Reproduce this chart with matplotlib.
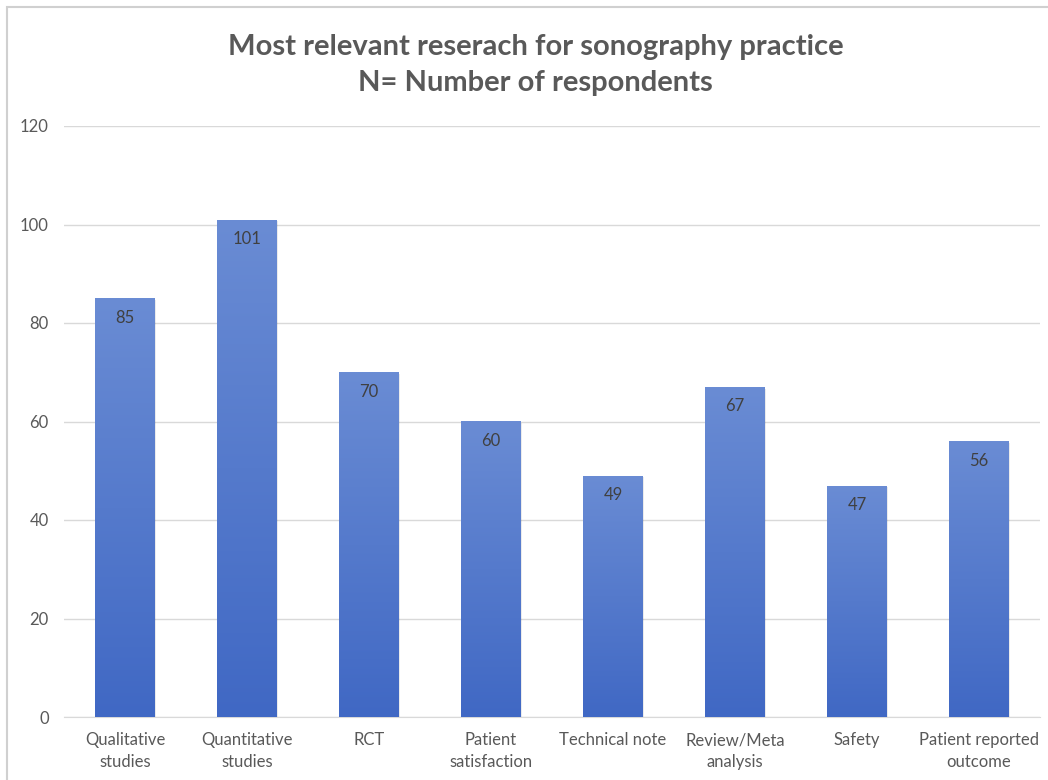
import numpy as np
import matplotlib
matplotlib.use("Agg")
import matplotlib.pyplot as plt
from matplotlib.patches import Rectangle
from matplotlib.colors import LinearSegmentedColormap

categories = ["Qualitative\nstudies", "Quantitative\nstudies", "RCT", "Patient\nsatisfaction",
              "Technical note", "Review/Meta\nanalysis", "Safety", "Patient reported\noutcome"]
counts = [85, 101, 70, 60, 49, 67, 47, 56]
yticks = [0, 20, 40, 60, 80, 100, 120]

plt.rcParams['font.family'] = ['Lato', 'DejaVu Sans']

fig = plt.figure(figsize=(10.48, 7.8), dpi=100)
ax = fig.add_axes([64 / 1048, 1 - 717 / 780, 976 / 1048, (717 - 126) / 780])

# light frame around the chart area
fig.patches.append(Rectangle((7 / 1048, -0.1), 1.2, 1 - 7 / 780 + 0.1, transform=fig.transFigure,
                             fill=False, edgecolor="#d0d0d0", linewidth=1.5, zorder=0))

x = np.arange(len(categories))
bars = ax.bar(x, counts, width=0.49, color="none", edgecolor="none", zorder=3)

# vertical gradient fill, lighter at the top
grad_cmap = LinearSegmentedColormap.from_list("bar_grad", ["#4068c4", "#6a8cd4"])
gradient = np.linspace(0, 1, 256).reshape(-1, 1)
for b in bars:
    x0, w, h = b.get_x(), b.get_width(), b.get_height()
    # soft shadow
    ax.add_patch(Rectangle((x0 + 0.012, 0), w, h - 0.3, facecolor="#000000", alpha=0.08,
                           edgecolor="none", zorder=2))
    im = ax.imshow(gradient, cmap=grad_cmap, extent=[x0, x0 + w, 0, h], origin="lower",
                   aspect="auto", zorder=3)
    im.set_clip_path(b)
    ax.annotate(str(int(h)), (x0 + w / 2, h), xytext=(0, -14), textcoords="offset points",
                ha="center", va="center", fontsize=12, color="#404040", zorder=4)

ax.set_xlim(-0.5, len(categories) - 0.5)
ax.set_ylim(0, 120)
ax.set_yticks(yticks)
ax.set_xticks(x)
ax.set_xticklabels(categories, fontsize=12, color="#595959", linespacing=1.45)
ax.tick_params(axis="y", labelsize=12, labelcolor="#595959", length=0, pad=11)
ax.tick_params(axis="x", length=0, pad=11)
ax.yaxis.grid(True, color="#d9d9d9", linewidth=1, zorder=0)
ax.set_axisbelow(True)
for side in ["top", "right", "left"]:
    ax.spines[side].set_visible(False)
ax.spines["bottom"].set_color("#d9d9d9")

fig.text(0.511, 1 - 47 / 780, "Most relevant reserach for sonography practice", ha="center", va="center",
         fontsize=21, fontweight="bold", color="#595959")
fig.text(0.511, 1 - 83 / 780, "N= Number of respondents", ha="center", va="center",
         fontsize=21, fontweight="bold", color="#595959")

fig.savefig("out.png", dpi=100)
